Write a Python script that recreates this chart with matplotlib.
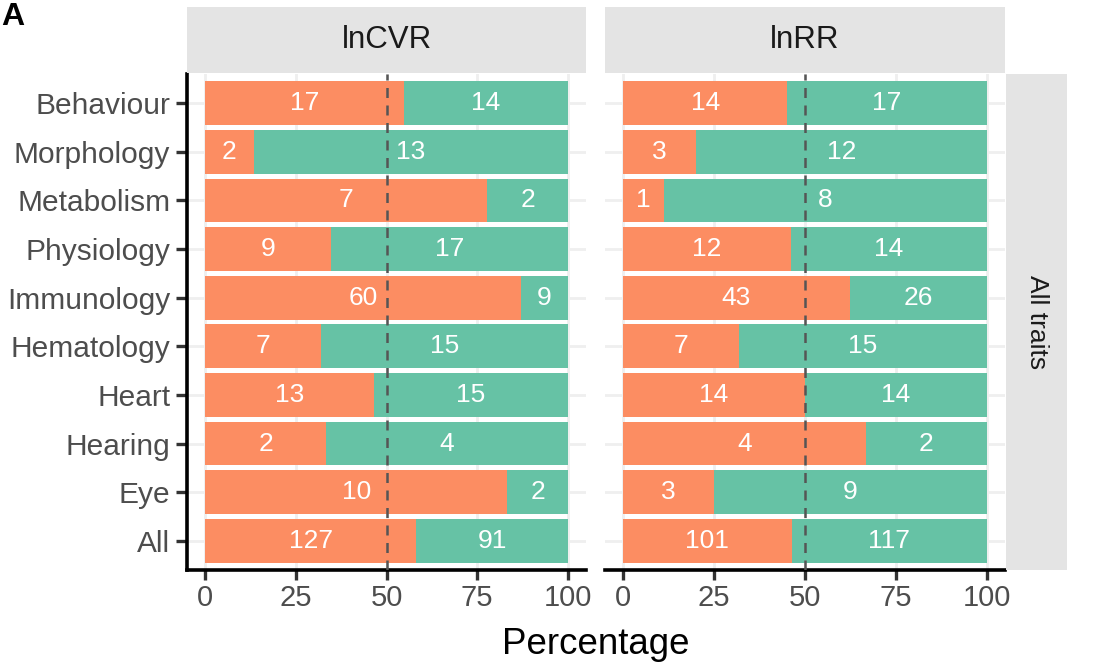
import numpy as np
import matplotlib.pyplot as plt

plt.rcParams['font.family'] = ['Liberation Sans', 'DejaVu Sans']

# Trait categories, top to bottom
categories = ['Behaviour', 'Morphology', 'Metabolism', 'Physiology', 'Immunology',
              'Hematology', 'Heart', 'Hearing', 'Eye', 'All']

# Counts per effect-size type: first (orange) and second (green) group
lncvr_first = [17, 2, 7, 9, 60, 7, 13, 2, 10, 127]
lncvr_second = [14, 13, 2, 17, 9, 15, 15, 4, 2, 91]
lnrr_first = [14, 3, 1, 12, 43, 7, 14, 4, 3, 101]
lnrr_second = [17, 12, 8, 14, 26, 15, 14, 2, 9, 117]

panels = [('lnCVR', lncvr_first, lncvr_second), ('lnRR', lnrr_first, lnrr_second)]
x_ticks = [0, 25, 50, 75, 100]

ORANGE = '#FC8D62'
GREEN = '#66C2A5'
STRIP = '#E4E4E4'
W, H = 1107, 663

fig = plt.figure(figsize=(W / 100, H / 100), dpi=100)


def px_axes(x0, y0, x1, y1):
    """Add axes from pixel box (top-left origin)."""
    return fig.add_axes([x0 / W, 1 - y1 / H, (x1 - x0) / W, (y1 - y0) / H])


panel_x = [(187, 586), (605, 1005)]
ypos = np.arange(len(categories), 0, -1)

for i, (name, first, second) in enumerate(panels):
    x0, x1 = panel_x[i]
    ax = px_axes(x0, 74, x1, 570)
    first = np.array(first, dtype=float)
    second = np.array(second, dtype=float)
    total = first + second
    p1 = first / total * 100
    p2 = second / total * 100

    ax.set_xlim(-5, 105)
    ax.set_ylim(0.4, len(categories) + 0.6)
    for xt in x_ticks:
        ax.axvline(xt, color='#EFEFEF', lw=2, zorder=0)
    for yp in ypos:
        ax.axhline(yp, color='#EFEFEF', lw=2, zorder=0)

    ax.barh(ypos, p1, height=0.9, color=ORANGE, zorder=2)
    ax.barh(ypos, p2, left=p1, height=0.9, color=GREEN, zorder=2)
    for yp, a, b, na, nb in zip(ypos, p1, p2, first, second):
        ax.text(a / 2, yp, f'{int(na)}', color='white', ha='center', va='center',
                fontsize=19, zorder=3)
        ax.text(a + b / 2, yp, f'{int(nb)}', color='white', ha='center', va='center',
                fontsize=19, zorder=3)
    ax.axvline(50, color='#555555', lw=1.8, ls=(0, (4, 3)), zorder=4)

    for s in ['top', 'right']:
        ax.spines[s].set_visible(False)
    ax.spines['bottom'].set_linewidth(2.6)
    ax.spines['bottom'].set_color('black')
    ax.set_xticks(x_ticks)
    ax.set_xticklabels([str(t) for t in x_ticks])
    ax.tick_params(axis='x', colors='#333333', labelcolor='#4D4D4D', labelsize=21,
                   length=7, width=2.4, pad=3)
    if i == 0:
        ax.spines['left'].set_linewidth(2.6)
        ax.spines['left'].set_color('black')
        ax.set_yticks(ypos)
        ax.set_yticklabels(categories)
        ax.tick_params(axis='y', colors='#333333', labelcolor='#4D4D4D', labelsize=21.5,
                       length=8, width=2.4, pad=4)
    else:
        ax.spines['left'].set_visible(False)
        ax.set_yticks([])

    # top strip
    sax = px_axes(x0, 7, x1, 73)
    sax.set_facecolor(STRIP)
    sax.set_xticks([])
    sax.set_yticks([])
    for s in sax.spines.values():
        s.set_visible(False)
    sax.text(0.5, 0.5, name, ha='center', va='center', fontsize=22.5, color='#1A1A1A',
             transform=sax.transAxes)

# right strip
rax = px_axes(1006, 74, 1067, 570)
rax.set_facecolor(STRIP)
rax.set_xticks([])
rax.set_yticks([])
for s in rax.spines.values():
    s.set_visible(False)
rax.text(0.5, 0.5, 'All traits', ha='center', va='center', rotation=-90, fontsize=19,
         color='#1A1A1A', transform=rax.transAxes)

fig.text(596 / W, 1 - 645 / H, 'Percentage', ha='center', va='center', fontsize=26.5,
         color='black')
fig.text(1 / W, 1 - 17 / H, 'A', ha='left', va='center', fontsize=23,
         fontweight='bold', color='black')

fig.savefig('out.png', dpi=100)
